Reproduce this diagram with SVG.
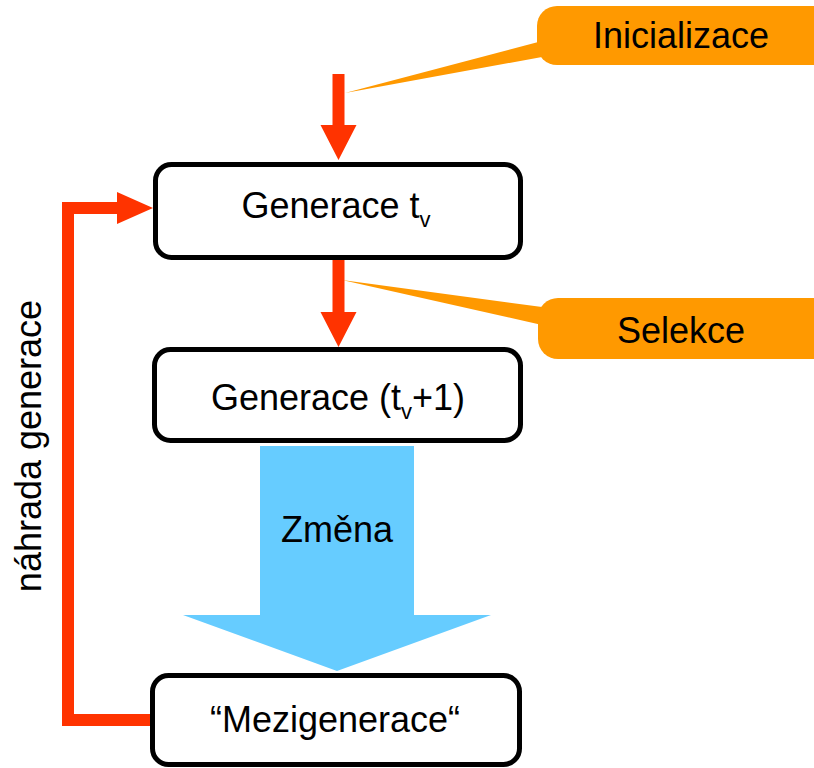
<svg xmlns="http://www.w3.org/2000/svg" width="814" height="768" viewBox="0 0 814 768">
<style>
text{font-family:"Liberation Sans",Arial,sans-serif;font-size:36px;fill:#000}
.box{fill:#fff;stroke:#000;stroke-width:5}
.callout{fill:#FF9900}
.red{fill:#FF3300}
</style>
<rect width="814" height="768" fill="#fff"/>
<g id="callout-inicializace">
<polygon class="callout" points="345,93 542,41 542,57"/>
<rect class="callout" x="537" y="6" width="310" height="59" rx="20"/>
<text x="681" y="48" text-anchor="middle">Inicializace</text>
</g>
<g id="callout-selekce">
<polygon class="callout" points="342,280 542,307 542,325"/>
<rect class="callout" x="538" y="298" width="310" height="61" rx="20"/>
<text x="681" y="343" text-anchor="middle">Selekce</text>
</g>
<g id="connectors">
<polygon class="red" points="332.5,74 344.5,74 344.5,125 356.5,125 338.5,160 320.5,125 332.5,125"/>
<polygon class="red" points="332.5,260 344.5,260 344.5,312 356.5,312 338.5,347 320.5,312 332.5,312"/>
<path d="M152,720 H68 V208 H120" fill="none" stroke="#FF3300" stroke-width="12"/>
<polygon class="red" points="117,192 153,208 117,224"/>
<polygon fill="#66CCFF" points="260,446 414,446 414,615 491,615 337,671 183,615 260,615"/>
<text x="337" y="542" text-anchor="middle">Změna</text>
<text transform="translate(41,446) rotate(-90)" text-anchor="middle">náhrada generace</text>
</g>
<g id="node-generace-tv">
<rect class="box" x="155.5" y="164.5" width="365" height="93" rx="16"/>
<text x="336" y="218" text-anchor="middle">Generace t<tspan font-size="22" dy="9">v</tspan></text>
</g>
<g id="node-generace-tv1">
<rect class="box" x="154.5" y="349.5" width="366" height="91" rx="16"/>
<text x="338" y="410" text-anchor="middle">Generace (t<tspan font-size="22" dy="9">v</tspan><tspan dy="-9">+1)</tspan></text>
</g>
<g id="node-mezigenerace">
<rect class="box" x="152.5" y="675.5" width="367" height="89" rx="16"/>
<text x="335" y="732" text-anchor="middle">“Mezigenerace“</text>
</g>
</svg>
